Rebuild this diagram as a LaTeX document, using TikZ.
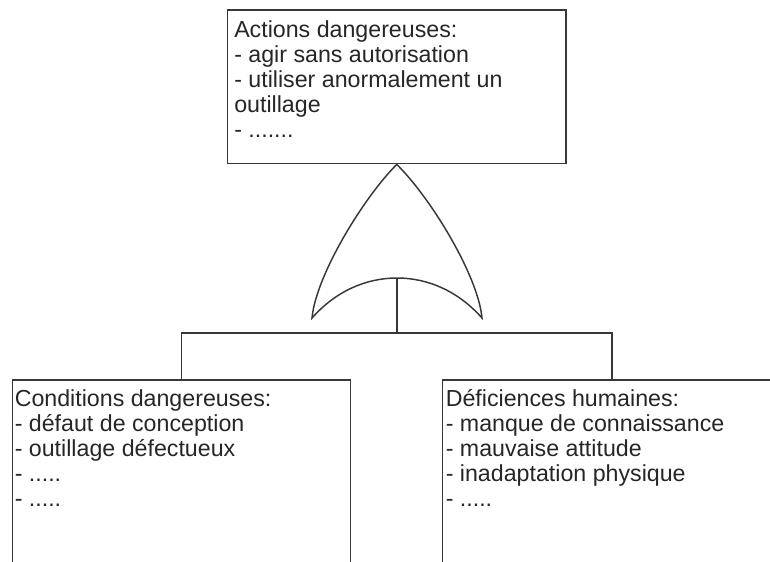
\documentclass[tikz,border=0pt]{standalone}
\usepackage{fontspec}
\setmainfont{Liberation Sans}
\usetikzlibrary{fit}
\definecolor{linegray}{HTML}{383838}
\definecolor{textgray}{HTML}{262626}
\begin{document}
\begin{tikzpicture}[x=0.75pt,y=-0.75pt,
  box/.style={draw=linegray, line width=1.4pt, inner sep=0pt},
  txt/.style={anchor=base west, inner sep=0pt, text=textgray, font=\fontsize{17.4pt}{18.75pt}\selectfont},
  wire/.style={draw=linegray, line width=1.4pt},
  gate/.style={draw=linegray, line width=1.1pt}]
\useasboundingbox (0,0) rectangle (770,561);
\clip (0,0) rectangle (770,561);
% boxes
\node[box, fit={(227.5,10) (566,163.5)}] (top) {};
\node[box, fit={(12.5,380) (350.5,600)}] (left) {};
\node[box, fit={(442.5,380) (781.5,600)}] (right) {};
% texts
\node[txt] (ttop) at (234,37.3) {\vtop{\hbox{Actions dangereuses:}\hbox{- agir sans autorisation}\hbox{- utiliser anormalement un}\hbox{outillage}\hbox{- .......}}};
\node[txt] (tleft) at (14.5,406) {\vtop{\hbox{Conditions dangereuses:}\hbox{- défaut de conception}\hbox{- outillage défectueux}\hbox{- .....}\hbox{- .....}}};
\node[txt] (tright) at (445.5,406) {\vtop{\hbox{Déficiences humaines:}\hbox{- manque de connaissance}\hbox{- mauvaise attitude}\hbox{- inadaptation physique}\hbox{- .....}}};
% OR gate
\coordinate (apex) at (top.south);
\coordinate (gl) at (312,318);
\coordinate (gr) at (482,318);
\coordinate (gm) at (397,278);
\coordinate (j) at (397,333);
\draw[gate] (apex) .. controls (364,197) and (316,275) .. (gl)
  .. controls (335,292) and (365,278) .. (gm)
  .. controls (429,278) and (459,292) .. (gr)
  .. controls (478,275) and (430,197) .. (apex);
% connectors
\draw[wire] (gm) -- (j);
\draw[wire] (left.north) |- (j) -| (right.north);
\end{tikzpicture}
\end{document}
